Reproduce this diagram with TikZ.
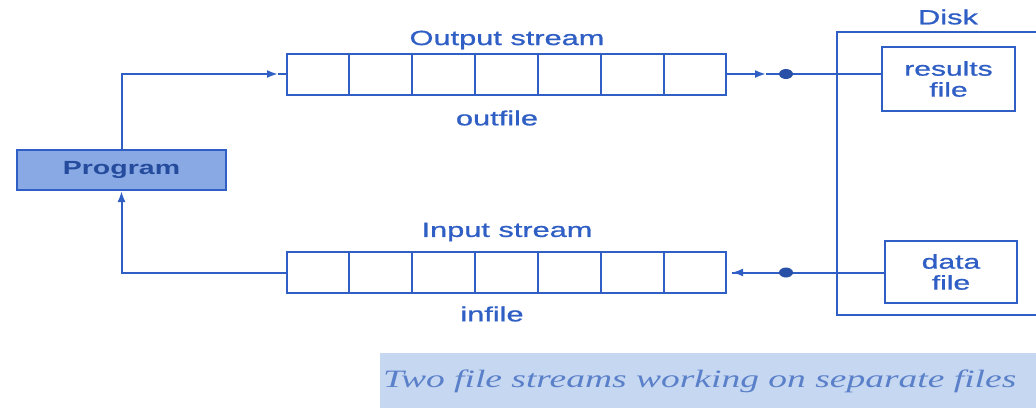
\documentclass[tikz,border=0pt]{standalone}
\usepackage{fontspec}
\setmainfont{Liberation Sans}
\newfontfamily\lblfont[FakeBold=0.8]{Liberation Sans}
\newfontfamily\capfont{Liberation Serif}
\usetikzlibrary{arrows.meta,calc,shapes.geometric}
\definecolor{ink}{HTML}{2F5EC4}
\definecolor{progfill}{HTML}{88A9E4}
\definecolor{capbg}{HTML}{C6D7F1}
\definecolor{captext}{HTML}{5A80C9}
% horizontally widened lettering
\newcommand\wide[1]{\scalebox{1.5}[1]{#1}}
\tikzset{
  lbl/.style={text=ink, font=\lblfont\fontsize{20.5}{22}\selectfont, inner sep=0pt},
  queue/.style={draw=ink, minimum width=439pt, minimum height=41pt, inner sep=0pt},
  filebox/.style={draw=ink, inner sep=0pt, text=ink, align=center,
    font=\lblfont\fontsize{20}{22}\selectfont},
  tip/.style={-{Latex[length=11pt,width=8pt]}},
  dot/.style={ellipse, fill=ink!85!black, minimum width=14pt, minimum height=10pt,
    inner sep=0pt, draw=none},
}
\begin{document}
\begin{tikzpicture}[x=1pt, y=-1pt, line width=2pt]
\useasboundingbox (0,0) rectangle (1036,408);

% program
\node[draw=ink, fill=progfill, minimum width=209pt, minimum height=40pt, inner sep=0pt,
      text=ink!80!black, font=\bfseries\fontsize{19}{21}\selectfont] (prog) at (121.5,170) {\wide{Program}};

% output stream queue
\node[queue] (outq) at (506.5,74) {};
\foreach \i in {1,...,6}
  \draw[ink] ($(outq.north west)!\i/7!(outq.north east)$) -- ($(outq.south west)!\i/7!(outq.south east)$);
\node[lbl] (outlbl) at (507,40) {\wide{Output stream}};
\node[lbl] (outname) at (497,118) {\wide{outfile}};

% input stream queue
\node[queue] (inq) at (506.5,272.5) {};
\foreach \i in {1,...,6}
  \draw[ink] ($(inq.north west)!\i/7!(inq.north east)$) -- ($(inq.south west)!\i/7!(inq.south east)$);
\node[lbl] (inlbl) at (507,232) {\wide{Input stream}};
\node[lbl] (inname) at (492,314) {\wide{infile}};

% disk and its files
\draw[ink] (1040,32) -| (837,315) -- (1040,315);
\node[lbl] (disk) at (948,17) {\wide{Disk}};
\node[filebox, minimum width=133pt, minimum height=64pt] (res) at (948.5,79)
  {\wide{results}\\[-1pt]\wide{file}};
\node[filebox, minimum width=132pt, minimum height=62pt] (dat) at (951,272)
  {\wide{data}\\[-1pt]\wide{file}};

% program -> output stream
\coordinate (oa) at (278,74);
\draw[ink, tip] (prog.north) |- (oa);
\draw[ink] (oa) -- (outq.west);

% output stream -> results file
\coordinate (ob) at (766,74);
\draw[ink, tip] (outq.east) -- (ob);
\draw[ink] (ob) -- (ob -| res.west);
\node[dot] (odot) at (786,74) {};

% data file -> input stream
\coordinate (ib) at (732,272.5);
\draw[ink] (dat.west |- ib) -- (ib);
\draw[ink, tip] (760,272.5) -- (ib);
\node[dot] (idot) at (786,272.5) {};

% input stream -> program
\draw[ink] (inq.west) -| (121.5,205);
\draw[ink, tip] (121.5,206) -- (prog.south);

% caption
\fill[capbg] (380,353) rectangle (1036,408);
\node[text=captext, font=\capfont\itshape\fontsize{25}{27}\selectfont, inner sep=0pt, anchor=west]
  (cap) at (382,381) {\wide{Two file streams working on separate files}};
\end{tikzpicture}
\end{document}
